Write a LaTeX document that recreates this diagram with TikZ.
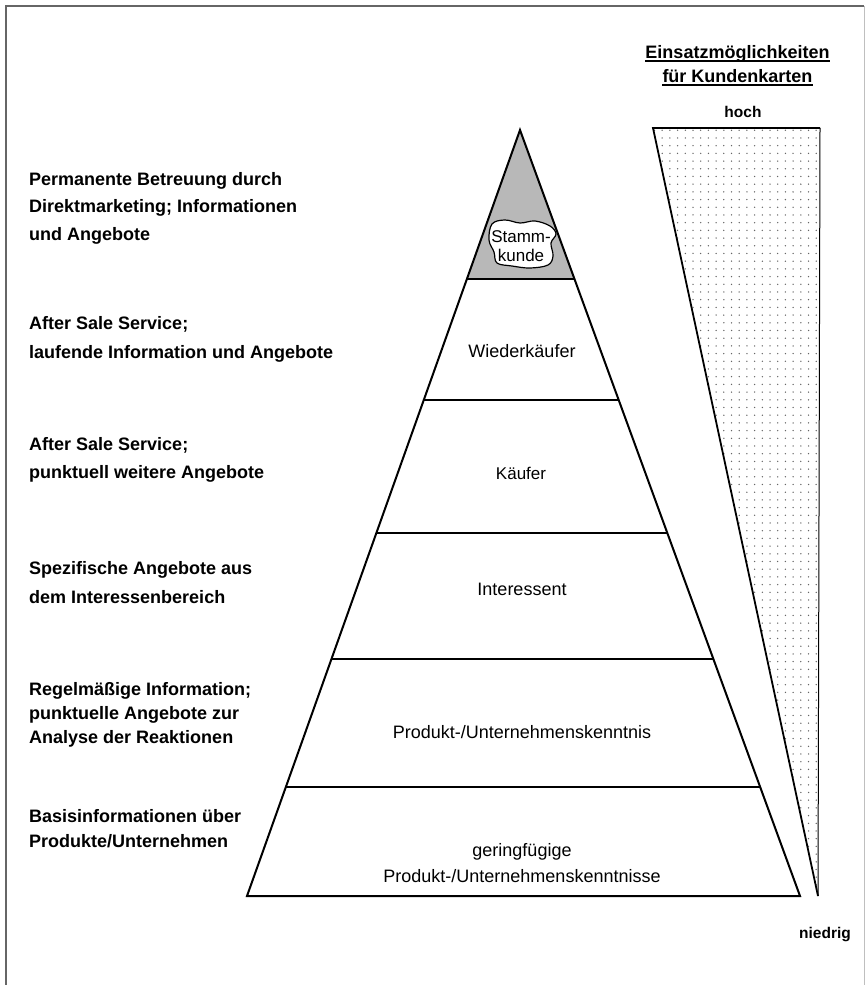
\documentclass[tikz,border=0pt]{standalone}
\usepackage{fontspec}
\setmainfont{Liberation Sans}
\usetikzlibrary{patterns.meta,calc}
\begin{document}
\begin{tikzpicture}[x=1pt,y=-1pt,
  frame/.style={draw=black!60, line width=1.8pt},
  pyr/.style={line width=2pt, line join=miter},
  tier/.style={line width=1.6pt},
  lefttxt/.style={anchor=base west, align=left, inner sep=0pt},
  tiertxt/.style={anchor=base, inner sep=0pt, align=center, font=\fontsize{18}{26}\selectfont},
  titletxt/.style={anchor=base, inner sep=0pt, font=\bfseries\fontsize{18}{24}\selectfont},
  scaletxt/.style={anchor=base, inner sep=0pt, font=\bfseries\fontsize{15.5}{20}\selectfont}
]
\useasboundingbox (0,0) rectangle (865,985);
% frame
\draw[frame] (6,985) -- (6,6) -- (864,6);
\draw[draw=black!25, line width=1pt] (864,6) -- (864,985);

% pyramid geometry
\coordinate (A) at (520,130);
\coordinate (BL) at (247,896);
\coordinate (BR) at (800,896);
\foreach \y [count=\i] in {279,400,533,659,787} {
  \coordinate (L\i) at ($(A)!{(\y-130)/766}!(BL)$);
  \coordinate (R\i) at ($(A)!{(\y-130)/766}!(BR)$);
}
\fill[black!28] (A) -- (L1) -- (R1) -- cycle;
\foreach \i in {1,...,5} { \draw[tier] (L\i) -- (R\i); }
\draw[pyr] (A) -- (BL) -- (BR) -- cycle;

% Stammkunde blob
\draw[line width=1.2pt, fill=white] plot[smooth cycle, tension=0.6] coordinates
  {(492,224) (505,220) (520,223) (535,221) (550,226) (556,234) (551,243)
   (553,256) (548,265) (530,268) (512,266) (497,263) (494,252) (489,240)};
\node[anchor=base, inner sep=0pt, align=center, font=\fontsize{17}{19}\selectfont] (stamm) at (521,261) {Stamm-\\kunde};

% tier labels
\node[tiertxt] (wk) at (522,357) {Wiederkäufer};
\node[tiertxt, font=\fontsize{17}{22}\selectfont] (kf) at (521,479) {Käufer};
\node[tiertxt] (int) at (522,595) {Interessent};
\node[tiertxt] (puk) at (522,738) {Produkt-/Unternehmenskenntnis};
\node[tiertxt] (gpuk) at (522,882) {geringfügige\\Produkt-/Unternehmenskenntnisse};

% left texts (anchor = baseline of last line)
\node[lefttxt, font=\bfseries\fontsize{18}{27.5}\selectfont] (m1) at (29,240)
  {Permanente Betreuung durch\\Direktmarketing; Informationen\\und Angebote};
\node[lefttxt, font=\bfseries\fontsize{18}{29}\selectfont] (m2) at (29,358)
  {After Sale Service;\\laufende Information und Angebote};
\node[lefttxt, font=\bfseries\fontsize{18}{28}\selectfont] (m3) at (29,478)
  {After Sale Service;\\punktuell weitere Angebote};
\node[lefttxt, font=\bfseries\fontsize{18}{29}\selectfont] (m4) at (29,603)
  {Spezifische Angebote aus\\dem Interessenbereich};
\node[lefttxt, font=\bfseries\fontsize{18}{24}\selectfont] (m5) at (29,743)
  {Regelmäßige Information;\\punktuelle Angebote zur\\Analyse der Reaktionen};
\node[lefttxt, font=\bfseries\fontsize{18}{25}\selectfont] (m6) at (29,847)
  {Basisinformationen über\\Produkte/Unternehmen};

% right scale triangle
\coordinate (H1) at (653,128);
\coordinate (H2) at (820,128);
\coordinate (H3) at (818,896);
\fill[pattern={Dots[distance=7.7pt, radius=0.75pt]}, pattern color=black!60] (H1) -- (H2) -- (H3) -- cycle;
\draw[line width=1.8pt, line join=miter] (H3) -- (H1) -- (H2);
\draw[line width=1pt] (H2) -- (H3);

% title and scale labels
\node[titletxt] (t1) at (737.5,58) {Einsatzmöglichkeiten};
\node[titletxt] (t2) at (737.5,82) {für Kundenkarten};
\draw[line width=1.6pt] ([yshift=-3pt]t1.base west) -- ([yshift=-3pt]t1.base east);
\draw[line width=1.6pt] ([yshift=-3pt]t2.base west) -- ([yshift=-3pt]t2.base east);
\node[scaletxt] (hoch) at (743,117) {hoch};
\node[scaletxt] (nied) at (825,938) {niedrig};
\end{tikzpicture}
\end{document}
